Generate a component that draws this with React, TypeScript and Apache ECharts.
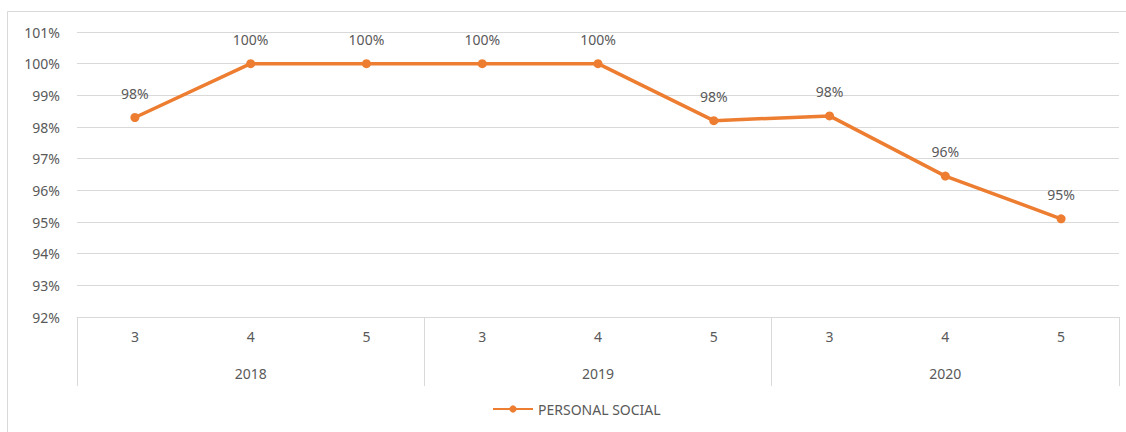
import React, { useEffect, useRef } from "react";
import * as echarts from "echarts";

const months = ["3", "4", "5", "3", "4", "5", "3", "4", "5"];
const years = ["2018", "2019", "2020"];
const values = [98.3, 100, 100, 100, 100, 98.2, 98.35, 96.45, 95.1];
const seriesName = "PERSONAL SOCIAL";

const FONT = "Noto Sans";
const TXT = "#595959";
const GRID = "#d9d9d9";
const ORANGE = "#ED7D31";

export default function App() {
  const ref = useRef<HTMLDivElement>(null);
  useEffect(() => {
    document.body.style.margin = "0";
    const chart = echarts.init(ref.current!, null, { renderer: "svg" });
    chart.setOption({
      animation: false,
      backgroundColor: "#fff",
      textStyle: { fontFamily: FONT },
      graphic: [
        {
          type: "rect",
          shape: { x: 7.5, y: 11.5, width: 1140, height: 440 },
          style: { fill: "none", stroke: GRID, lineWidth: 1 },
          silent: true,
        },
      ],
      grid: { left: 77, right: 7, top: 32, bottom: 115 },
      legend: {
        bottom: 11,
        left: 487,
        itemWidth: 40,
        itemHeight: 9,
        itemGap: 2,
        textStyle: { color: TXT, fontSize: 14, fontFamily: FONT },
        data: [seriesName],
      },
      xAxis: [
        {
          type: "category",
          data: months,
          position: "bottom",
          axisLine: { show: true, lineStyle: { color: GRID, width: 1 } },
          axisTick: { show: false },
          axisLabel: { color: TXT, fontSize: 14, margin: 12, fontFamily: FONT },
        },
        {
          type: "category",
          data: years,
          position: "bottom",
          offset: 0,
          axisLine: { show: false },
          axisTick: {
            show: true,
            length: 69,
            interval: 0,
            lineStyle: { color: GRID, width: 1 },
          },
          axisLabel: { color: TXT, fontSize: 14, margin: 49, fontFamily: FONT },
        },
      ],
      yAxis: {
        type: "value",
        min: 92,
        max: 101,
        interval: 1,
        axisLine: { show: false },
        axisTick: { show: false },
        splitLine: { lineStyle: { color: GRID, width: 1 } },
        axisLabel: {
          color: TXT,
          fontSize: 14,
          margin: 17,
          fontFamily: FONT,
          formatter: (v: number) => `${v}%`,
        },
      },
      series: [
        {
          name: seriesName,
          type: "line",
          xAxisIndex: 0,
          data: values,
          symbol: "circle",
          symbolSize: 9,
          lineStyle: { color: ORANGE, width: 3.5 },
          itemStyle: { color: ORANGE },
          label: {
            show: true,
            position: "top",
            distance: 13,
            color: TXT,
            fontSize: 14,
            fontFamily: FONT,
            formatter: (p: any) => `${Math.round(p.value)}%`,
          },
        },
      ],
    });
    return () => chart.dispose();
  }, []);
  return <div ref={ref} style={{ width: 1126, height: 432 }} />;
}
